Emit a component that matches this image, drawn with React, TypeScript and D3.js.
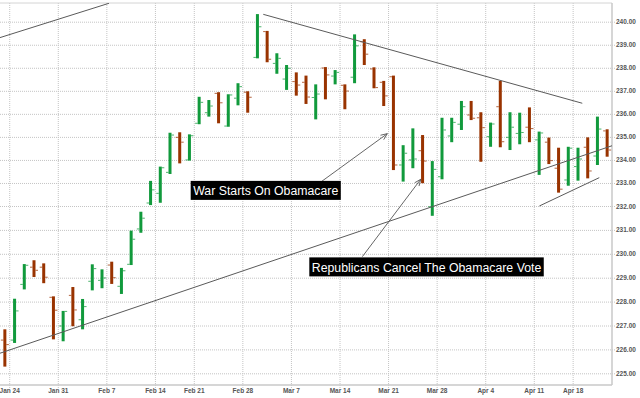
import React, { useEffect, useRef } from "react";
import * as d3 from "d3";

// trading days, Jan 23 - Apr 21
const days = [
  "Jan 23", "Jan 24", "Jan 25", "Jan 26", "Jan 27", "Jan 30", "Jan 31",
  "Feb 1", "Feb 2", "Feb 3", "Feb 6", "Feb 7", "Feb 8", "Feb 9", "Feb 10",
  "Feb 13", "Feb 14", "Feb 15", "Feb 16", "Feb 17", "Feb 21", "Feb 22", "Feb 23", "Feb 24",
  "Feb 27", "Feb 28", "Mar 1", "Mar 2", "Mar 3", "Mar 6", "Mar 7", "Mar 8", "Mar 9", "Mar 10",
  "Mar 13", "Mar 14", "Mar 15", "Mar 16", "Mar 17", "Mar 20", "Mar 21", "Mar 22", "Mar 23", "Mar 24",
  "Mar 27", "Mar 28", "Mar 29", "Mar 30", "Mar 31", "Apr 3", "Apr 4", "Apr 5", "Apr 6", "Apr 7",
  "Apr 10", "Apr 11", "Apr 12", "Apr 13", "Apr 17", "Apr 18", "Apr 19", "Apr 20", "Apr 21",
];

const opens = [
  226.39, 226.39, 228.72, 229.44, 229.44, 228.18, 226.98, 228.26, 227.24, 228.85,
  228.89, 229.53, 228.64, 229.56, 231.04, 232.13, 232.55, 233.46, 234.98, 234.0,
  235.59, 236.05, 236.89, 235.47, 236.68, 236.94, 238.45, 239.57, 238.19, 237.51,
  237.4, 237.37, 236.71, 237.99, 237.64, 237.24, 237.59, 239.13, 237.95, 237.37,
  237.61, 233.78, 234.0, 234.4, 231.97, 233.27, 235.04, 235.55, 235.95, 235.83,
  235.01, 236.31, 234.98, 235.15, 235.42, 234.87, 234.77, 233.64, 233.13, 233.71,
  234.55, 234.17, 235.26,
];
const highs = [
  226.84, 228.12, 229.57, 229.73, 229.6, 228.22, 227.61, 228.61, 228.11, 229.56,
  229.35, 229.67, 229.41, 230.97, 231.76, 233.09, 233.71, 235.18, 235.2, 235.11,
  236.74, 236.6, 236.94, 236.85, 237.33, 236.98, 240.33, 239.6, 238.63, 238.12,
  237.8, 237.66, 237.28, 238.03, 237.9, 237.28, 239.45, 239.24, 238.02, 237.43,
  237.66, 234.64, 235.37, 235.08, 233.95, 235.83, 235.83, 236.56, 236.56, 236.07,
  235.62, 237.43, 236.07, 236.05, 236.28, 235.23, 234.97, 234.53, 234.57, 234.53,
  234.98, 235.88, 235.33,
];
const lows = [
  225.28, 226.27, 228.51, 229.03, 228.77, 226.42, 226.34, 226.97, 226.84, 228.47,
  228.56, 228.74, 228.32, 229.53, 230.88, 232.04, 232.14, 233.39, 233.85, 233.97,
  235.55, 235.88, 235.59, 235.44, 236.37, 236.05, 238.41, 238.24, 237.74, 237.04,
  236.79, 236.43, 235.76, 236.63, 237.28, 236.2, 237.33, 238.12, 237.11, 236.34,
  233.56, 233.06, 233.64, 232.99, 231.59, 233.16, 234.77, 235.3, 235.73, 233.92,
  234.57, 234.55, 234.43, 234.68, 234.77, 233.35, 233.82, 232.58, 232.88, 233.1,
  233.2, 233.78, 234.14,
];
const closes = [
  226.2, 227.61, 229.52, 229.31, 229.02, 227.64, 227.59, 227.65, 227.79, 229.38,
  228.99, 229.0, 229.29, 230.61, 231.49, 232.7, 233.66, 235.08, 234.77, 235.05,
  236.5, 236.34, 236.48, 236.82, 237.18, 236.72, 239.78, 238.37, 238.41, 237.98,
  237.25, 236.73, 236.86, 237.69, 237.8, 236.99, 238.95, 238.59, 237.14, 236.78,
  233.78, 234.29, 234.04, 233.95, 233.59, 235.3, 235.63, 236.31, 235.81, 235.4,
  235.56, 234.79, 235.42, 235.19, 235.36, 235.17, 233.97, 232.73, 234.51, 234.04,
  233.52, 235.34, 234.43,
];

const tickDays = ["Jan 24", "Jan 31", "Feb 7", "Feb 14", "Feb 21", "Feb 28", "Mar 7",
  "Mar 14", "Mar 21", "Mar 28", "Apr 4", "Apr 11", "Apr 18"];
const priceTicks = [225, 226, 227, 228, 229, 230, 231, 232, 233, 234, 235, 236, 237, 238, 239, 240];

// trend lines drawn on the chart, [day index, price]
const trendLines = [
  [[-0.5, 239.31], [10.72, 240.8]],
  [[26.6, 240.32], [59.44, 236.46]],
  [[-0.5, 225.84], [62.53, 234.62]],
  [[55.02, 232.0], [61.19, 233.23]],
];

const notes = [
  { text: "War Starts On Obamacare", box: [19.13, 233.09], tail: [32.62, 233.07], head: [39.37, 235.14] },
  { text: "Republicans Cancel The Obamacare Vote", box: [31.34, 229.85], tail: [36.8, 229.88], head: [42.81, 233.16] },
];

const App = () => {
  const svgRef = useRef(null);

  useEffect(() => {
    const svg = d3.select(svgRef.current);
    svg.selectAll("*").remove();

    const width = 640;
    const height = 398;
    const plot = { left: 0, right: 612, top: 3, bottom: 385 };
    const green = "#119a3c";
    const red = "#993300";

    const x = d3.scaleLinear().domain([-0.5, days.length - 0.5]).range([plot.left, plot.right]);
    // axis spacing in the source is slightly uneven
    const y = d3.scaleLinear().domain([225, 232, 240]).range([373.3, 206, 21.7]);

    svg.attr("width", width).attr("height", height);
    svg.append("rect").attr("width", width).attr("height", height).attr("fill", "#fff");

    svg.append("defs").append("clipPath").attr("id", "plotClip")
      .append("rect")
      .attr("x", plot.left).attr("y", plot.top)
      .attr("width", plot.right - plot.left).attr("height", plot.bottom - plot.top);

    // grid
    const grid = svg.append("g").attr("stroke", "#c4c4c4").attr("stroke-dasharray", "1,1");
    grid.selectAll("line.h").data(priceTicks).enter().append("line")
      .attr("x1", plot.left).attr("x2", plot.right + 4)
      .attr("y1", d => y(d) + 0.5).attr("y2", d => y(d) + 0.5);
    grid.selectAll("line.v").data(tickDays).enter().append("line")
      .attr("x1", d => x(days.indexOf(d) - 0.5)).attr("x2", d => x(days.indexOf(d) - 0.5))
      .attr("y1", plot.top).attr("y2", plot.bottom + 3);

    // frame
    svg.append("line").attr("x1", plot.left).attr("x2", plot.right).attr("y1", plot.top).attr("y2", plot.top)
      .attr("stroke", "#d4d4d4");
    svg.append("line").attr("x1", plot.left).attr("x2", plot.right).attr("y1", plot.bottom).attr("y2", plot.bottom)
      .attr("stroke", "#c8c8c8").attr("stroke-width", 1.5);
    svg.append("line").attr("x1", plot.right).attr("x2", plot.right).attr("y1", plot.top).attr("y2", plot.bottom)
      .attr("stroke", "#c8c8c8").attr("stroke-width", 1.5);

    // axis labels
    svg.append("g").selectAll("text").data(priceTicks).enter().append("text")
      .attr("x", plot.right + 4).attr("y", d => y(d) + 2.5)
      .style("font-family", "Liberation Sans, Arial, sans-serif")
      .style("font-size", "6.5px").style("font-weight", "bold").style("fill", "#555")
      .text(d => d.toFixed(2));
    svg.append("g").selectAll("text").data(tickDays).enter().append("text")
      .attr("x", d => x(days.indexOf(d) - 0.5)).attr("y", 393)
      .attr("text-anchor", "middle")
      .style("font-family", "Liberation Sans, Arial, sans-serif")
      .style("font-size", "6.5px").style("font-weight", "bold").style("fill", "#555")
      .text(d => d);

    // OHLC bars
    const bars = svg.append("g").selectAll("g").data(days).enter().append("g")
      .attr("fill", (d, i) => (closes[i] >= opens[i] ? green : red))
      .attr("stroke", (d, i) => (closes[i] >= opens[i] ? green : red));
    bars.append("rect")
      .attr("x", (d, i) => x(i) - 1.5).attr("width", 3)
      .attr("y", (d, i) => y(highs[i])).attr("height", (d, i) => y(lows[i]) - y(highs[i]))
      .attr("stroke", "none");
    bars.append("line")
      .attr("x1", (d, i) => x(i) - 4).attr("x2", (d, i) => x(i) - 1.5)
      .attr("y1", (d, i) => y(opens[i])).attr("y2", (d, i) => y(opens[i]))
      .attr("stroke-opacity", 0.75);
    bars.append("line")
      .attr("x1", (d, i) => x(i) + 1.5).attr("x2", (d, i) => x(i) + 4)
      .attr("y1", (d, i) => y(closes[i])).attr("y2", (d, i) => y(closes[i]))
      .attr("stroke-opacity", 0.75);

    // trend lines
    const line = d3.line().x(d => x(d[0])).y(d => y(d[1]));
    svg.append("g").attr("clip-path", "url(#plotClip)")
      .selectAll("path").data(trendLines).enter().append("path")
      .attr("d", d => line(d))
      .attr("fill", "none").attr("stroke", "#5a5a5a").attr("stroke-width", 1);

    // annotations
    notes.forEach(n => {
      const g = svg.append("g");
      const tx = x(n.tail[0]), ty = y(n.tail[1]);
      const hx = x(n.head[0]), hy = y(n.head[1]);
      g.append("line").attr("x1", tx).attr("y1", ty).attr("x2", hx).attr("y2", hy)
        .attr("stroke", "#555").attr("stroke-width", 0.9);
      const ang = Math.atan2(hy - ty, hx - tx);
      const ah = 7;
      [-0.4, 0.4].forEach(a => {
        g.append("line").attr("x1", hx).attr("y1", hy)
          .attr("x2", hx - ah * Math.cos(ang + a)).attr("y2", hy - ah * Math.sin(ang + a))
          .attr("stroke", "#555").attr("stroke-width", 0.9);
      });

      const bx = x(n.box[0]), by = y(n.box[1]);
      const box = g.append("rect").attr("x", bx).attr("y", by).attr("height", 19).attr("fill", "#000");
      const label = g.append("text")
        .attr("x", bx + 2.5).attr("y", by + 14.2)
        .style("font-family", "Liberation Sans, Arial, sans-serif")
        .style("font-size", "12.3px").style("fill", "#fff")
        .text(n.text);
      const w = label.node().getComputedTextLength();
      box.attr("width", w + 5);
    });
  }, []);

  return <svg ref={svgRef} style={{ position: "absolute", left: 0, top: 0 }} />;
};

export default App;
